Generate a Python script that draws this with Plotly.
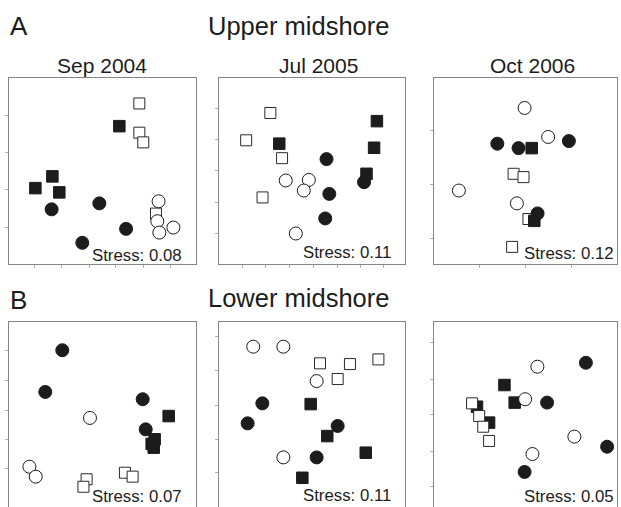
import plotly.graph_objects as go

W, H = 621, 507

# ---------------- data: NMDS ordination coordinates (MDS1, MDS2) ----------------
# A: Upper midshore
upper_sep04_filled_sq = [(0.590, 0.741), (0.232, 0.471), (0.141, 0.408), (0.269, 0.385)]
upper_sep04_open_sq = [(0.697, 0.863), (0.697, 0.706), (0.718, 0.654), (0.786, 0.271)]
upper_sep04_filled_ci = [(0.228, 0.294), (0.483, 0.326), (0.626, 0.189), (0.392, 0.114)]
upper_sep04_open_ci = [(0.800, 0.337), (0.793, 0.230), (0.804, 0.169), (0.879, 0.196)]

upper_jul05_filled_sq = [(0.324, 0.647), (0.849, 0.768), (0.834, 0.625), (0.793, 0.485)]
upper_jul05_open_sq = [(0.276, 0.812), (0.146, 0.665), (0.339, 0.569), (0.234, 0.358)]
upper_jul05_filled_ci = [(0.578, 0.564), (0.780, 0.440), (0.593, 0.377), (0.571, 0.245)]
upper_jul05_open_ci = [(0.359, 0.449), (0.483, 0.452), (0.456, 0.395), (0.413, 0.164)]

upper_oct06_filled_sq = [(0.534, 0.623), (0.548, 0.232)]
upper_oct06_open_sq = [(0.435, 0.485), (0.489, 0.467), (0.516, 0.242), (0.427, 0.092)]
upper_oct06_filled_ci = [(0.346, 0.647), (0.462, 0.623), (0.737, 0.661), (0.566, 0.272)]
upper_oct06_open_ci = [(0.495, 0.839), (0.624, 0.683), (0.136, 0.395), (0.453, 0.326)]

# B: Lower midshore
lower_sep04_filled_sq = [(0.854, 0.497), (0.779, 0.373), (0.763, 0.348), (0.774, 0.328)]
lower_sep04_open_sq = [(0.415, 0.159), (0.398, 0.119), (0.620, 0.194), (0.661, 0.173)]
lower_sep04_filled_ci = [(0.285, 0.849), (0.194, 0.626), (0.715, 0.587), (0.731, 0.426)]
lower_sep04_open_ci = [(0.433, 0.487), (0.109, 0.226), (0.143, 0.173)]

lower_jul05_filled_sq = [(0.493, 0.561), (0.582, 0.390), (0.789, 0.301), (0.448, 0.167)]
lower_jul05_open_sq = [(0.543, 0.779), (0.704, 0.775), (0.857, 0.800), (0.638, 0.695)]
lower_jul05_filled_ci = [(0.233, 0.565), (0.154, 0.458), (0.638, 0.444), (0.525, 0.276)]
lower_jul05_open_ci = [(0.184, 0.868), (0.346, 0.868), (0.525, 0.684), (0.346, 0.276)]

lower_oct06_filled_sq = [(0.385, 0.663), (0.441, 0.569), (0.235, 0.547), (0.301, 0.462)]
lower_oct06_open_sq = [(0.208, 0.565), (0.247, 0.497), (0.269, 0.440), (0.301, 0.364)]
lower_oct06_filled_ci = [(0.830, 0.782), (0.618, 0.569), (0.946, 0.333), (0.495, 0.198)]
lower_oct06_open_ci = [(0.565, 0.761), (0.498, 0.587), (0.767, 0.387), (0.538, 0.294)]

sampling_dates = ["Sep 2004", "Jul 2005", "Oct 2006"]
zone_labels = ["Upper midshore", "Lower midshore"]
panel_letters = ["A", "B"]
stress_values = [[0.08, 0.11, 0.12], [0.07, 0.11, 0.05]]

# tick positions (ordination units) per panel
x_ticks = [
    [0.139, 0.283, 0.428, 0.572, 0.717, 0.861],
    [0.124, 0.249, 0.378, 0.508, 0.638, 0.762, 0.886],
    [0.25, 0.5, 0.75],
]
y_ticks = [
    [[0.198, 0.401, 0.599, 0.797], [0.162, 0.330, 0.503, 0.670, 0.838], [0.135, 0.427, 0.719]],
    [[0.216, 0.374, 0.529, 0.686, 0.845], [0.193, 0.374, 0.556, 0.740, 0.921], [0.119, 0.310, 0.503, 0.695, 0.889]],
]

panel_data = [
    [
        (upper_sep04_filled_sq, upper_sep04_open_sq, upper_sep04_filled_ci, upper_sep04_open_ci),
        (upper_jul05_filled_sq, upper_jul05_open_sq, upper_jul05_filled_ci, upper_jul05_open_ci),
        (upper_oct06_filled_sq, upper_oct06_open_sq, upper_oct06_filled_ci, upper_oct06_open_ci),
    ],
    [
        (lower_sep04_filled_sq, lower_sep04_open_sq, lower_sep04_filled_ci, lower_sep04_open_ci),
        (lower_jul05_filled_sq, lower_jul05_open_sq, lower_jul05_filled_ci, lower_jul05_open_ci),
        (lower_oct06_filled_sq, lower_oct06_open_sq, lower_oct06_filled_ci, lower_oct06_open_ci),
    ],
]

# ---------------- layout geometry (pixels) ----------------
col_px = [(9, 196), (219, 405), (434, 617)]
row_px = [(78, 264), (322, 509)]
FONT = "Liberation Sans, Arial, Helvetica, sans-serif"
INK = "#1c1c1c"

fig = go.Figure()
layout = dict(
    width=W, height=H, margin=dict(l=0, r=0, t=0, b=0),
    paper_bgcolor="white", plot_bgcolor="white", showlegend=False,
)

annotations = []
idx = 0
for r in range(2):
    for c in range(3):
        idx += 1
        xa = "x" if idx == 1 else f"x{idx}"
        ya = "y" if idx == 1 else f"y{idx}"
        x0, x1 = col_px[c]
        y0, y1 = row_px[r]
        # clip the visible part at the bottom of the page
        y1v = min(y1, H)
        yr0 = (y1 - y1v) / (y1 - y0)
        xkey = "xaxis" if idx == 1 else f"xaxis{idx}"
        ykey = "yaxis" if idx == 1 else f"yaxis{idx}"
        xaxis = dict(
            domain=[x0 / W, x1 / W], range=[0, 1], anchor=ya,
            showgrid=False, zeroline=False, showticklabels=False,
            showline=True, linecolor="#858585", linewidth=1.2,
            tickmode="array", tickvals=x_ticks[c], ticklen=3, tickcolor="#b0b0b0", tickwidth=1,
            fixedrange=True,
        )
        if r == 0:
            xaxis.update(mirror=True, ticks="outside")
        else:
            xaxis.update(side="top", mirror=False, ticks="")
        yaxis = dict(
            domain=[1 - y1v / H, 1 - y0 / H], range=[yr0, 1], anchor=xa,
            showgrid=False, zeroline=False, showticklabels=False,
            showline=True, mirror=True, linecolor="#858585", linewidth=1.2,
            ticks="outside", tickmode="array", tickvals=y_ticks[r][c], ticklen=3,
            tickcolor="#b0b0b0", tickwidth=1, fixedrange=True,
        )
        layout[xkey] = xaxis
        layout[ykey] = yaxis

        fsq, osq, fci, oci = panel_data[r][c]
        styles = {
            "fsq": (fsq, dict(symbol="square", size=11.5, color=INK, line=dict(color=INK, width=1))),
            "osq": (osq, dict(symbol="square", size=11, color="white", line=dict(color="#2a2a2a", width=1))),
            "fci": (fci, dict(symbol="circle", size=13, color=INK, line=dict(color=INK, width=1))),
            "oci": (oci, dict(symbol="circle", size=13, color="white", line=dict(color="#1a1a1a", width=1))),
        }
        order = ["osq", "fsq", "fci", "oci"] if (r, c) == (0, 2) else ["fsq", "osq", "fci", "oci"]
        for key in order:
            pts, mk = styles[key]
            fig.add_trace(go.Scatter(
                x=[p[0] for p in pts], y=[p[1] for p in pts], mode="markers",
                marker=mk, xaxis=xa, yaxis=ya, hoverinfo="skip", cliponaxis=False,
            ))

        # stress label
        stress_right = [184, 393, 616][c]
        stress_mid = [[255, 252.5, 253], [496, 495, 496]][r][c]
        annotations.append(dict(
            text=f"Stress: {stress_values[r][c]:.2f}", xref="paper", yref="paper",
            x=stress_right / W, y=1 - stress_mid / H, xanchor="right", yanchor="middle",
            showarrow=False, font=dict(family=FONT, size=16.8, color=INK),
        ))
        if r == 0:
            title_cx = [102, 318.5, 532][c]
            annotations.append(dict(
                text=sampling_dates[c], xref="paper", yref="paper",
                x=title_cx / W, y=1 - 65 / H, xanchor="center", yanchor="middle",
                showarrow=False, font=dict(family=FONT, size=21, color=INK),
            ))

for r in range(2):
    mid = [25.5, 300][r]
    annotations.append(dict(
        text=panel_letters[r], xref="paper", yref="paper", x=8 / W, y=1 - mid / H,
        xanchor="left", yanchor="middle", showarrow=False,
        font=dict(family=FONT, size=26, color=INK),
    ))
    annotations.append(dict(
        text=zone_labels[r], xref="paper", yref="paper", x=298 / W, y=1 - [26, 298][r] / H,
        xanchor="center", yanchor="middle", showarrow=False,
        font=dict(family=FONT, size=25.5, color=INK),
    ))

layout["annotations"] = annotations
fig.update_layout(**layout)
fig.write_html("out.html")
